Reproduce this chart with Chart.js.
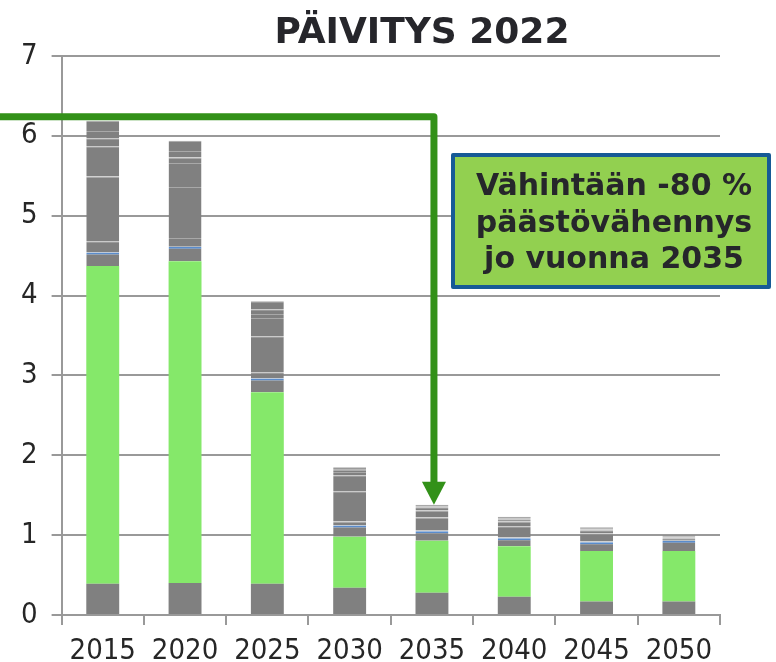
<!DOCTYPE html>
<html>
<head>
<meta charset="utf-8">
<script src="https://cdn.jsdelivr.net/npm/chart.js@4"></script>
<style>
  html, body { margin: 0; padding: 0; background: #fff; }
  #wrap { width: 776px; height: 662px; }
</style>
</head>
<body>
<div id="wrap"><canvas id="chart"></canvas></div>
<script>
const years = ["2015", "2020", "2025", "2030", "2035", "2040", "2045", "2050"];
const yTicks = [0, 1, 2, 3, 4, 5, 6, 7];

// gray base, green middle, then the gray top split in thin layers
const baseGray = [0.39, 0.40, 0.39, 0.34, 0.28, 0.23, 0.17, 0.17];
const greenPart = [3.98, 4.03, 2.40, 0.64, 0.65, 0.63, 0.63, 0.63];
const layer1 = [0.17, 0.18, 0.17, 0.14, 0.12, 0.10, 0.11, 0.13];
const layer2 = [0.14, 0.11, 0.08, 0.05, 0.01, 0.01, 0.01, 0.01];
const layer3 = [0.81, 0.64, 0.45, 0.38, 0.16, 0.14, 0.10, 0.02];
const layer4 = [0.38, 0.30, 0.23, 0.20, 0.09, 0.06, 0.04, 0.01];
const layer5 = [0.10, 0.07, 0.05, 0.04, 0.04, 0.03, 0.01, 0.01];
const layer6 = [0.09, 0.08, 0.06, 0.03, 0.01, 0.01, 0.01, 0.01];
const layer7 = [0.13, 0.13, 0.10, 0.03, 0.02, 0.02, 0.02, 0.01];

const arrowLevel = 6.24;   // height of the green horizontal line
const arrowYear = "2035";

const noteLines = ["Vähintään -80 %", "päästövähennys", "jo vuonna 2035"];
const titleText = "PÄIVITYS 2022";

const gray = "#808080";
const topLayers = [layer1, layer2, layer3, layer4, layer5, layer6, layer7];
const layerLine = ["#5a8ccc", "#a8a8a8", "#a8a8a8", "#a8a8a8", "#a8a8a8", "#a8a8a8", "#a8a8a8"];

const barOpts = { stack: "s", barPercentage: 0.4, categoryPercentage: 1 };

const datasets = [
  { label: "base", data: baseGray, backgroundColor: gray, borderWidth: 0, ...barOpts },
  { label: "green", data: greenPart, backgroundColor: "#85e86a", borderWidth: 0, ...barOpts },
  ...topLayers.map((d, i) => ({
    label: "layer" + (i + 1),
    data: d,
    backgroundColor: gray,
    borderColor: layerLine[i],
    borderWidth: { top: i === 0 ? 2 : 1, left: 0, right: 0, bottom: 0 },
    borderSkipped: false,
    ...barOpts,
  })),
];

const labelFont = { family: "'DejaVu Sans Condensed', 'Liberation Sans', sans-serif", size: 29, lineHeight: 1 };

const overlay = {
  id: "overlay",
  afterDatasetsDraw(chart) {
    const ctx = chart.ctx;
    const x = chart.scales.x;
    const y = chart.scales.y;
    const idx = years.indexOf(arrowYear);
    let total = 0;
    chart.data.datasets.forEach((ds) => (total += ds.data[idx]));

    const ax = x.getPixelForValue(idx) + 2;
    const ly = y.getPixelForValue(arrowLevel);
    const tipY = y.getPixelForValue(total);
    const headH = 23;

    ctx.save();
    ctx.strokeStyle = "#339119";
    ctx.fillStyle = "#339119";
    ctx.lineWidth = 7;
    ctx.lineJoin = "round";
    ctx.beginPath();
    ctx.moveTo(0, ly);
    ctx.lineTo(ax, ly);
    ctx.lineTo(ax, tipY - headH + 2);
    ctx.stroke();
    ctx.beginPath();
    ctx.moveTo(ax - 12, tipY - headH);
    ctx.lineTo(ax + 12, tipY - headH);
    ctx.lineTo(ax, tipY);
    ctx.closePath();
    ctx.fill();

    // text box
    ctx.fillStyle = "#92d050";
    ctx.fillRect(453, 155, 316, 132);
    ctx.strokeStyle = "#165a96";
    ctx.lineWidth = 4;
    ctx.strokeRect(453, 155, 316, 132);
    ctx.fillStyle = "#26262b";
    ctx.font = "bold 30px 'DejaVu Sans', sans-serif";
    ctx.textAlign = "center";
    ctx.textBaseline = "alphabetic";
    noteLines.forEach((t, i) => ctx.fillText(t, 614, 195 + i * 36.5));

    // title
    ctx.font = "bold 36px 'DejaVu Sans', sans-serif";
    ctx.fillText(titleText, 422, 43);
    ctx.restore();
  },
};

new Chart(document.getElementById("chart"), {
  type: "bar",
  data: { labels: years, datasets: datasets },
  options: {
    responsive: true,
    maintainAspectRatio: false,
    animation: false,
    layout: { padding: { top: 56, left: 7, right: 56, bottom: -16 } },
    plugins: {
      legend: { display: false },
      title: { display: false },
      tooltip: { enabled: false },
    },
    scales: {
      x: {
        stacked: true,
        grid: { drawOnChartArea: false, drawTicks: true, tickLength: 10, color: "#999", lineWidth: 2 },
        border: { color: "#999", width: 2 },
        ticks: { font: labelFont, color: "#262626", padding: 12 },
      },
      y: {
        stacked: true,
        min: 0,
        max: 7,
        afterBuildTicks: (axis) => { axis.ticks = yTicks.map((v) => ({ value: v })); },
        grid: { color: "#999", lineWidth: 2, tickLength: 10 },
        border: { color: "#999", width: 2 },
        ticks: { font: labelFont, color: "#262626", padding: 14 },
      },
    },
  },
  plugins: [overlay],
});
</script>
</body>
</html>
